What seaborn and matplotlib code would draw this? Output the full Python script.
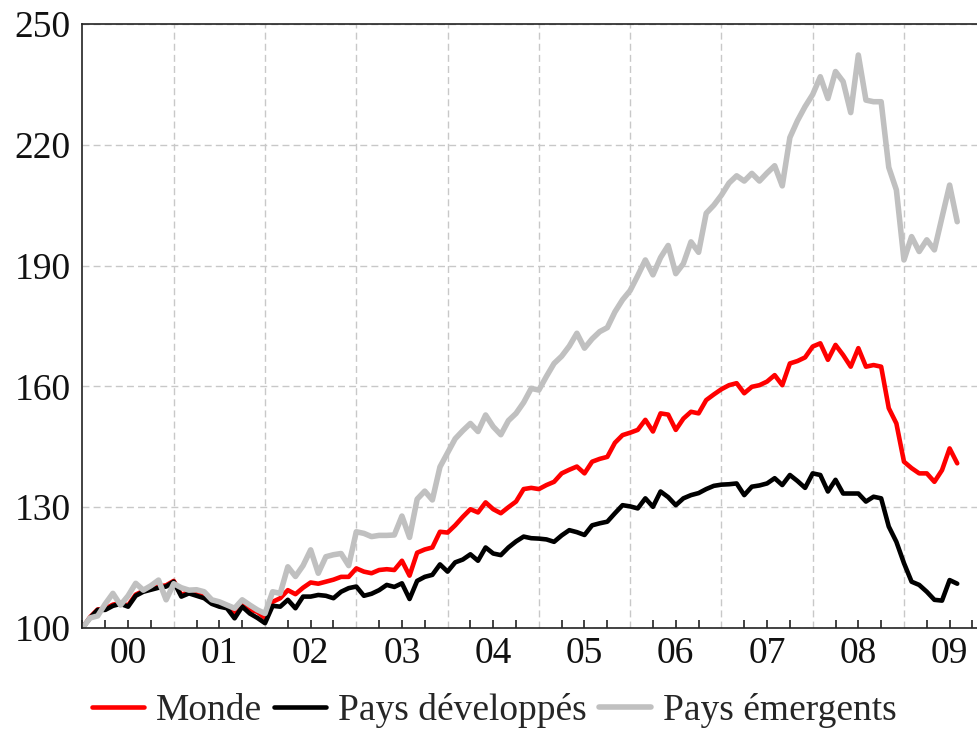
import numpy as np
import pandas as pd
import matplotlib
matplotlib.use("Agg")
import matplotlib.pyplot as plt
import seaborn as sns
from matplotlib.lines import Line2D

# ---- data (monthly index, base 100 = Jan 2000) ----
dates = pd.date_range("2000-01-01", periods=116, freq="MS")

monde = [100, 102.7, 104.6, 104.8, 105.8, 106.2, 105.6, 108.3, 109.2, 109.8,
         110.3, 110.6, 111.7, 108.2, 109, 108.5, 108, 106.6, 106, 105.6,
         103.3, 106.3, 104.6, 104, 102.5, 106.5, 107.4, 109.4, 108.4, 110,
         111.3, 111, 111.5, 112, 112.7, 112.7, 114.8, 114, 113.6, 114.4,
         114.6, 114.4, 116.7, 113, 118.7, 119.5, 120, 123.9, 123.7, 125.5,
         127.6, 129.5, 128.7, 131.2, 129.5, 128.5, 130, 131.4, 134.5, 134.8,
         134.5, 135.5, 136.3, 138.4, 139.3, 140.1, 138.4, 141.3, 142, 142.5,
         146, 147.9, 148.5, 149.2, 151.7, 148.8, 153.3, 153, 149.2, 152,
         153.7, 153.3, 156.6, 158, 159.3, 160.3, 160.8, 158.3, 159.9, 160.3,
         161.2, 162.8, 160.3, 165.7, 166.3, 167.2, 169.9, 170.7, 166.6, 170.3,
         167.8, 164.9, 169.5, 164.9, 165.3, 164.9, 154.6, 150.8, 141.3, 139.7,
         138.4, 138.4, 136.3, 139.2, 144.6, 140.9]

developpes = [100, 102.5, 104.5, 104.5, 105.5, 106, 105.3, 108, 109, 109.5,
              110, 110.3, 111.5, 107.8, 108.6, 108, 107.4, 106, 105.3, 104.9,
              102.4, 105.3, 103.6, 102.5, 101.2, 105.5, 105.3, 107, 104.9, 107.8,
              107.8, 108.2, 108, 107.4, 109, 109.9, 110.3, 108, 108.5, 109.4,
              110.7, 110.2, 111.1, 107.2, 111.7, 112.7, 113.2, 115.8, 114, 116.3,
              117, 118.3, 116.7, 120, 118.5, 118.1, 120, 121.5, 122.7, 122.3,
              122.2, 122, 121.4, 123, 124.3, 123.8, 123.1, 125.5, 126, 126.4,
              128.5, 130.5, 130.2, 129.7, 132.2, 130.1, 133.9, 132.5, 130.5, 132.2,
              133, 133.5, 134.5, 135.3, 135.6, 135.7, 135.9, 133, 135.1, 135.4,
              135.9, 137.2, 135.5, 138, 136.5, 134.8, 138.4, 138, 133.9, 136.8,
              133.4, 133.4, 133.4, 131.4, 132.6, 132.2, 125.2, 121.4, 116.1, 111.5,
              110.7, 109, 107, 106.8, 111.9, 111]

emergents = [100, 102.5, 103, 106, 108.6, 105.7, 108, 111.1, 109.4, 110.5,
             111.9, 107, 111, 110, 109.4, 109.5, 109, 107, 106.5, 105.7,
             104.9, 107, 105.7, 104.5, 103.6, 109, 108.6, 115.2, 112.8, 115.5,
             119.4, 113.6, 117.7, 118.2, 118.5, 115.5, 123.9, 123.5, 122.7, 123,
             123, 123.1, 127.8, 122.5, 132, 134, 131.8, 140, 143.5, 147,
             149, 150.8, 148.8, 152.9, 150, 148, 151.5, 153.3, 156, 159.5,
             159.1, 162.5, 165.7, 167.5, 170, 173.2, 169.5, 171.8, 173.6, 174.6,
             178.5, 181.5, 183.8, 187.5, 191.4, 187.7, 192, 195, 188, 190.5,
             195.9, 193.3, 203, 205, 207.5, 210.5, 212.3, 211, 212.9, 211,
             213, 214.8, 209.8, 221.8, 226, 229.5, 232.5, 236.9, 231.5, 238.2,
             235.7, 228, 242.3, 231.1, 230.7, 230.7, 214.4, 208.8, 191.4, 197.2,
             193.5, 196.4, 193.9, 202, 210, 200.9]

series_names = ["Monde", "Pays développés", "Pays émergents"]
series_colors = ["#ff0000", "#000000", "#c0c0c0"]
series_widths = [3.3, 3.3, 4.0]

yticks = [100, 130, 160, 190, 220, 250]
year_labels = ["00", "01", "02", "03", "04", "05", "06", "07", "08", "09"]

# ---- build long table ----
xdec = dates.year + (dates.month - 1) / 12.0
df = pd.DataFrame({
    "x": np.tile(xdec, 3),
    "value": monde + developpes + emergents,
    "serie": np.repeat(series_names, len(dates)),
})

sns.set_theme(style="white")
plt.rcParams["font.family"] = ["Liberation Serif", "DejaVu Serif"]
plt.rcParams["axes.linewidth"] = 1.2

fig = plt.figure(figsize=(9.77, 7.29), dpi=100)
ax = fig.add_axes([82 / 977, 1 - 628 / 729, (977 - 82) / 977, 604 / 729])

for name, col, lw in zip(series_names, series_colors, series_widths):
    sns.lineplot(data=df[df["serie"] == name], x="x", y="value", color=col,
                 linewidth=lw, ax=ax, legend=False)

ax.set_xlim(1999.995, 2009.80)
ax.set_ylim(100, 250)
ax.set_xlabel("")
ax.set_ylabel("")

# spines
for s in ["left", "top", "bottom"]:
    ax.spines[s].set_color("#222222")
    ax.spines[s].set_linewidth(1.2)
ax.spines["right"].set_visible(False)

# y ticks
ax.set_yticks(yticks)
ax.set_yticklabels([str(v) for v in yticks])
ax.tick_params(axis="y", direction="in", length=10, width=1.2, color="#222222",
               labelsize=27, pad=8, labelcolor="#111111")

# x: year boundaries as major ticks (with grid), quarters as minor
years = np.arange(2000, 2010)
ax.set_xticks(years[1:])
ax.set_xticklabels([])
ax.set_xticks(np.arange(2000, 2009.9, 0.25), minor=True)
ax.tick_params(axis="x", which="major", direction="in", length=10, width=1.2,
               color="#222222")
ax.tick_params(axis="x", which="minor", direction="in", length=6, width=1.2,
               color="#222222", bottom=True)

ax.grid(True, which="major", axis="both", color="#c8c8c8", linestyle=(0, (5, 3)),
        linewidth=1.0)
ax.set_axisbelow(True)

# year labels centred in each year
sec = ax.secondary_xaxis("bottom")
sec.set_xticks(years + 0.5)
sec.set_xticklabels(year_labels)
sec.tick_params(axis="x", length=0, labelsize=27, pad=6, labelcolor="#111111")
sec.spines["bottom"].set_visible(False)

# legend
handles = [Line2D([0], [0], color=c, lw=w) for c, w in zip(series_colors, series_widths)]
fig.legend(handles, series_names, loc="center", bbox_to_anchor=(494 / 977, 1 - 711 / 729),
           ncol=3, frameon=False, fontsize=27, handlelength=1.4, handletextpad=0.3,
           columnspacing=0.33, borderaxespad=0, borderpad=0)

fig.savefig("out.png", dpi=100)
